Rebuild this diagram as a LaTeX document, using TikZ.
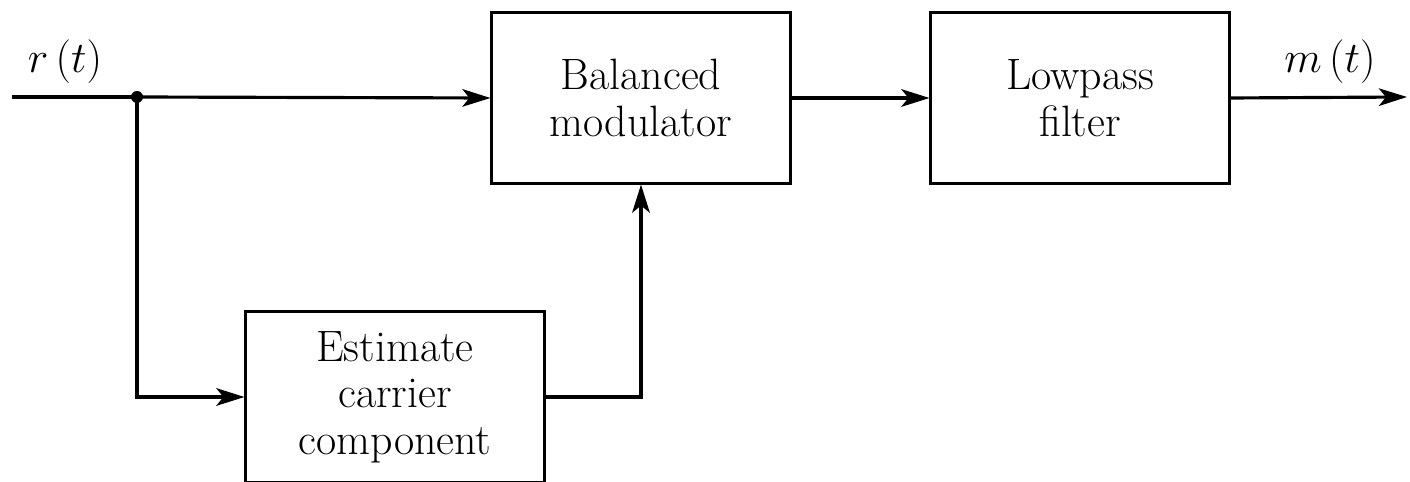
\documentclass[tikz,border=0pt]{standalone}
\usetikzlibrary{arrows.meta}
\begin{document}
\begin{tikzpicture}[x=0.02cm,y=-0.02cm,
  blk/.style={draw,line width=1.2pt,minimum width=5.98cm,minimum height=3.42cm,inner sep=0pt,align=center,font=\fontsize{25}{26.5}\selectfont},
  conn/.style={line width=1.8pt,-{Stealth[length=16pt,width=10pt,inset=4pt]}},
  lbl/.style={font=\fontsize{27}{30}\selectfont}]
\useasboundingbox (0,0) rectangle (1410,482);
\node[blk] (bm) at (641,98) {Balanced\\modulator};
\node[blk] (lp) at (1080,98) {Lowpass\\filter};
\node[blk] (ec) at (395,397) {Estimate\\carrier\\component};
\coordinate (in) at (12,97);
\coordinate (out) at (1407,97);
\fill (137,97) circle (6) coordinate (dot);
\node[lbl] (r) at (65,62) {$r\,(t)$};
\node[lbl] (m) at (1330,62) {$m\,(t)$};
\draw[line width=1.8pt] (in) -- (dot);
\draw[conn] (dot) -- (bm.west);
\draw[conn] (bm.east) -- (lp.west);
\draw[conn] (lp.east) -- (out);
\draw[conn] (dot) |- (ec.west);
\draw[conn] (ec.east) -| (bm.south -| 641,0);
\end{tikzpicture}
\end{document}
